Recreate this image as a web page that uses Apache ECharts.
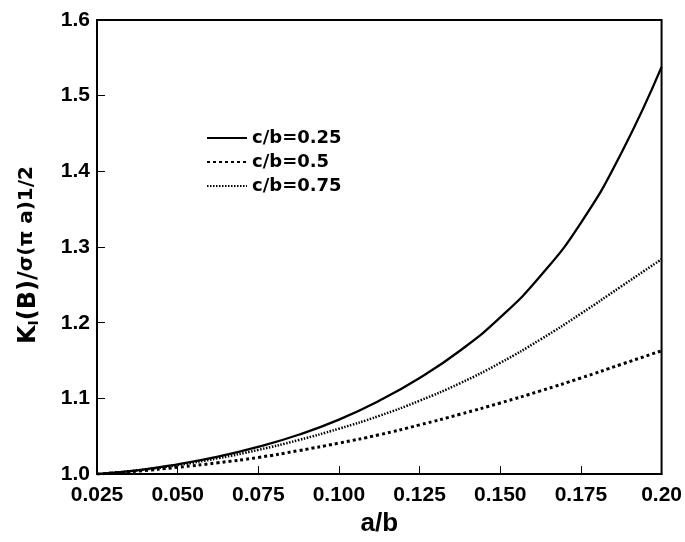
<!DOCTYPE html>
<html>
<head>
<meta charset="utf-8">
<script src="https://cdn.jsdelivr.net/npm/echarts@6/dist/echarts.min.js"></script>
<style>html,body{margin:0;padding:0;background:#fff}#c{width:685px;height:542px}</style>
</head>
<body>
<div id="c"></div>
<script>
var aOverB = [0.025, 0.0375, 0.05, 0.0625, 0.075, 0.0875, 0.1, 0.1125, 0.125, 0.1375, 0.15, 0.1625, 0.175, 0.1875, 0.2];
var cb025 = [1.000, 1.005, 1.013, 1.023, 1.036, 1.052, 1.072, 1.097, 1.127, 1.163, 1.207, 1.262, 1.332, 1.424, 1.538];
var cb05  = [1.000, 1.004, 1.009, 1.015, 1.022, 1.031, 1.041, 1.052, 1.065, 1.079, 1.094, 1.110, 1.127, 1.145, 1.163];
var cb075 = [1.000, 1.005, 1.012, 1.021, 1.032, 1.045, 1.060, 1.077, 1.097, 1.120, 1.147, 1.178, 1.212, 1.248, 1.284];
var seriesNames = ['c/b=0.25', 'c/b=0.5', 'c/b=0.75'];
var xTickLabels = ['0.025', '0.050', '0.075', '0.100', '0.125', '0.150', '0.175', '0.20'];
var yTickLabels = ['1.0', '1.1', '1.2', '1.3', '1.4', '1.5', '1.6'];

function pairs(ys) { return aOverB.map(function (x, i) { return [x, ys[i]]; }); }

var chart = echarts.init(document.getElementById('c'), null, {renderer: 'canvas'});
var tickFont = {color: '#000', fontFamily: 'Liberation Sans, Arial, sans-serif', fontWeight: 'bold', fontSize: 21};
chart.setOption({
  animation: false,
  backgroundColor: '#fff',
  grid: {left: 97, right: 22, top: 20, bottom: 66, show: true, borderColor: '#000', borderWidth: 2},
  legend: {
    orient: 'vertical', left: 201, top: 124, itemWidth: 40, itemHeight: 14, itemGap: 6,
    data: seriesNames,
    itemStyle: {opacity: 0},
    textStyle: {color: '#000', fontFamily: 'DejaVu Sans, sans-serif', fontWeight: 'bold', fontSize: 18, lineHeight: 18}
  },
  xAxis: {
    type: 'value', min: 0.025, max: 0.2, interval: 0.025,
    name: 'a/b', nameLocation: 'middle', nameGap: 32,
    nameTextStyle: {color: '#000', fontFamily: 'Liberation Sans, Arial, sans-serif', fontWeight: 'bold', fontSize: 26},
    axisLine: {lineStyle: {color: '#000', width: 2}},
    axisTick: {inside: true, length: 8, lineStyle: {color: '#000', width: 1}},
    splitLine: {show: false},
    axisLabel: Object.assign({margin: 11, formatter: function (v) {
      var i = Math.round((v - 0.025) / 0.025); return xTickLabels[i] || '';
    }}, tickFont)
  },
  yAxis: {
    type: 'value', min: 1.0, max: 1.6, interval: 0.1,
    name: '{k|K}{i|I}{k|(B)/}{s|σ(π a)1/2}', nameLocation: 'middle', nameGap: 56,
    nameTextStyle: {
      color: '#000', padding: [0, 16, 0, 0],
      rich: {
        k: {fontFamily: 'DejaVu Sans, sans-serif', fontWeight: 'bold', fontSize: 24, color: '#000', verticalAlign: 'bottom'},
        i: {fontFamily: 'DejaVu Sans, sans-serif', fontWeight: 'bold', fontSize: 14, color: '#000', verticalAlign: 'bottom'},
        s: {fontFamily: 'DejaVu Sans, sans-serif', fontWeight: 'bold', fontSize: 20, color: '#000', verticalAlign: 'top'}
      }
    },
    axisLine: {lineStyle: {color: '#000', width: 2}},
    axisTick: {inside: true, length: 8, lineStyle: {color: '#000', width: 1}},
    splitLine: {show: false},
    axisLabel: Object.assign({margin: 7, formatter: function (v) {
      var i = Math.round((v - 1.0) / 0.1); return yTickLabels[i] || '';
    }}, tickFont)
  },
  series: [
    {name: seriesNames[0], type: 'line', data: pairs(cb025), showSymbol: false, symbol: 'none', smooth: true,
     lineStyle: {color: '#000', width: 2.3, type: 'solid'}, itemStyle: {color: '#000'}},
    {name: seriesNames[1], type: 'line', data: pairs(cb05), showSymbol: false, symbol: 'none', smooth: true,
     lineStyle: {color: '#000', width: 3, type: [3, 3]}, itemStyle: {color: '#000'}},
    {name: seriesNames[2], type: 'line', data: pairs(cb075), showSymbol: false, symbol: 'none', smooth: true,
     lineStyle: {color: '#000', width: 2.5, type: [1.5, 1.5]}, itemStyle: {color: '#000'}}
  ]
});
</script>
</body>
</html>
